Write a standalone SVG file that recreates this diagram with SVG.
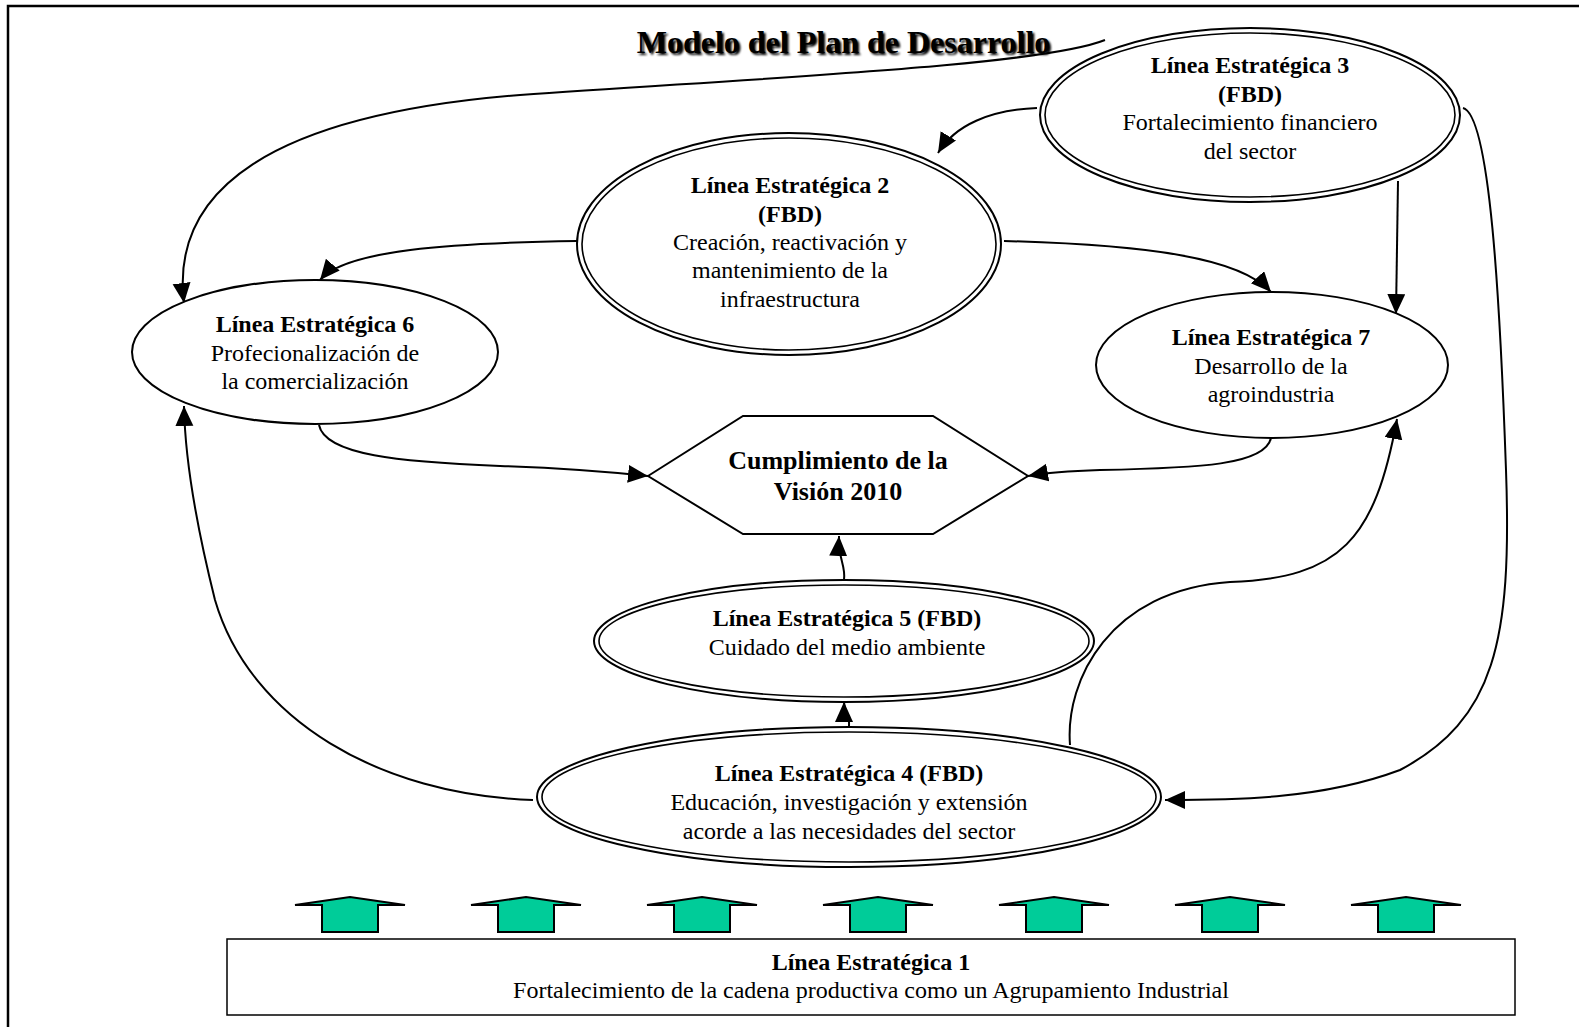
<svg xmlns="http://www.w3.org/2000/svg" width="1579" height="1027" viewBox="0 0 1579 1027">
  <defs>
    <style>
      .t { font-family: "Liberation Serif", "Times New Roman", serif; font-size: 24px; fill: #000; text-anchor: middle; }
      .b { font-weight: bold; }
      .node { fill: #fff; stroke: #000; stroke-width: 2; }
      .dbl-o { fill: #fff; stroke: #000; stroke-width: 2; }
      .dbl-i { fill: none; stroke: #000; stroke-width: 1.6; }
      .conn { fill: none; stroke: #000; stroke-width: 2; }
      .up { fill: #00cc99; stroke: #000; stroke-width: 2; stroke-linejoin: miter; }
    </style>
    <marker id="ah" markerUnits="userSpaceOnUse" markerWidth="22" markerHeight="20" refX="20" refY="9" orient="auto">
      <path d="M0,0 L20,9 L0,18 Z" fill="#000"/>
    </marker>
    <filter id="soft" x="-5%" y="-20%" width="110%" height="140%">
      <feGaussianBlur stdDeviation="1"/>
    </filter>
  </defs>

  <rect width="1579" height="1027" fill="#fff"/>
  <!-- page frame -->
  <rect x="8" y="6" width="1600" height="1100" fill="none" stroke="#000" stroke-width="2.5"/>

  <!-- title with drop shadow -->
  <g id="title">
    <text x="845.5" y="55" class="t b" style="font-size:32px" fill="#777" filter="url(#soft)">Modelo del Plan de Desarrollo</text>
    <text x="843.5" y="53" class="t b" style="font-size:32px">Modelo del Plan de Desarrollo</text>
  </g>

  <!-- connectors -->
  <g id="connectors">
    <path class="conn" d="M1105,40 C1040,66 760,78 520,95 C270,115 170,190 184,303" marker-end="url(#ah)"/>
    <path class="conn" d="M1037,108 C990,110 955,125 938,153" marker-end="url(#ah)"/>
    <path class="conn" d="M1398,181 L1396,314" marker-end="url(#ah)"/>
    <path class="conn" d="M1463,108 C1490,115 1500,300 1506,470 C1512,640 1495,720 1400,770 C1320,800 1230,800 1165,800" marker-end="url(#ah)"/>
    <path class="conn" d="M577,241 C450,243 345,250 320,280" marker-end="url(#ah)"/>
    <path class="conn" d="M1004,241 C1150,245 1240,258 1271,292" marker-end="url(#ah)"/>
    <path class="conn" d="M319,425 C325,455 400,462 500,466 C560,468 610,472 648,476" marker-end="url(#ah)"/>
    <path class="conn" d="M1271,438 C1265,465 1200,468 1100,470 C1070,471 1045,473 1028,476" marker-end="url(#ah)"/>
    <path class="conn" d="M844,580 C846,565 838,560 839,536" marker-end="url(#ah)"/>
    <path class="conn" d="M849,726 C850,715 844,712 844,702" marker-end="url(#ah)"/>
    <path class="conn" d="M533,800 C380,795 250,720 215,600 C195,520 185,460 184,406" marker-end="url(#ah)"/>
    <path class="conn" d="M1070,745 C1065,680 1110,590 1230,582 C1340,578 1375,540 1397,419" marker-end="url(#ah)"/>
  </g>

  <!-- Línea Estratégica 3 -->
  <g id="le3">
    <ellipse class="dbl-o" cx="1250" cy="115" rx="210" ry="87"/>
    <ellipse class="dbl-i" cx="1250" cy="115" rx="205" ry="82"/>
    <text x="1250" y="73" class="t b">Línea Estratégica 3</text>
    <text x="1250" y="102" class="t b">(FBD)</text>
    <text x="1250" y="130" class="t">Fortalecimiento financiero</text>
    <text x="1250" y="159" class="t">del sector</text>
  </g>

  <!-- Línea Estratégica 2 -->
  <g id="le2">
    <ellipse class="dbl-o" cx="789" cy="244" rx="212" ry="111"/>
    <ellipse class="dbl-i" cx="789" cy="244" rx="207" ry="106"/>
    <text x="790" y="193" class="t b">Línea Estratégica 2</text>
    <text x="790" y="222" class="t b">(FBD)</text>
    <text x="790" y="250" class="t">Creación, reactivación y</text>
    <text x="790" y="278" class="t">mantenimiento de la</text>
    <text x="790" y="307" class="t">infraestructura</text>
  </g>

  <!-- Línea Estratégica 6 -->
  <g id="le6">
    <ellipse class="node" cx="315" cy="352" rx="183" ry="72"/>
    <text x="315" y="332" class="t b">Línea Estratégica 6</text>
    <text x="315" y="361" class="t">Profecionalización de</text>
    <text x="315" y="389" class="t">la comercialización</text>
  </g>

  <!-- Línea Estratégica 7 -->
  <g id="le7">
    <ellipse class="node" cx="1272" cy="365" rx="176" ry="73"/>
    <text x="1271" y="345" class="t b">Línea Estratégica 7</text>
    <text x="1271" y="374" class="t">Desarrollo de la</text>
    <text x="1271" y="402" class="t">agroindustria</text>
  </g>

  <!-- Cumplimiento de la Visión 2010 -->
  <g id="vision">
    <polygon class="node" points="648,476 743,416 933,416 1028,476 933,534 743,534"/>
    <text x="838" y="469" class="t b" style="font-size:26px">Cumplimiento de la</text>
    <text x="838" y="500" class="t b" style="font-size:26px">Visión 2010</text>
  </g>

  <!-- Línea Estratégica 5 -->
  <g id="le5">
    <ellipse class="dbl-o" cx="844" cy="641" rx="250" ry="61"/>
    <ellipse class="dbl-i" cx="844" cy="641" rx="245" ry="56"/>
    <text x="847" y="626" class="t b">Línea Estratégica 5 (FBD)</text>
    <text x="847" y="655" class="t">Cuidado del medio ambiente</text>
  </g>

  <!-- Línea Estratégica 4 -->
  <g id="le4">
    <ellipse class="dbl-o" cx="849" cy="797" rx="312" ry="70"/>
    <ellipse class="dbl-i" cx="849" cy="797" rx="307" ry="65"/>
    <text x="849" y="781" class="t b">Línea Estratégica 4 (FBD)</text>
    <text x="849" y="810" class="t">Educación, investigación y extensión</text>
    <text x="849" y="839" class="t">acorde a las necesidades del sector</text>
  </g>

  <!-- upward support arrows -->
  <g id="support-arrows">
    <path id="ua" class="up" d="M295,905 L350,897 L405,905 L378,905 L378,932 L322,932 L322,905 Z"/>
    <use href="#ua" x="176"/>
    <use href="#ua" x="352"/>
    <use href="#ua" x="528"/>
    <use href="#ua" x="704"/>
    <use href="#ua" x="880"/>
    <use href="#ua" x="1056"/>
  </g>

  <!-- Línea Estratégica 1 -->
  <g id="le1">
    <rect x="227" y="939" width="1288" height="76" fill="#fff" stroke="#000" stroke-width="1.5"/>
    <text x="871" y="970" class="t b">Línea Estratégica 1</text>
    <text x="871" y="998" class="t">Fortalecimiento de la cadena productiva como un Agrupamiento Industrial</text>
  </g>
</svg>
